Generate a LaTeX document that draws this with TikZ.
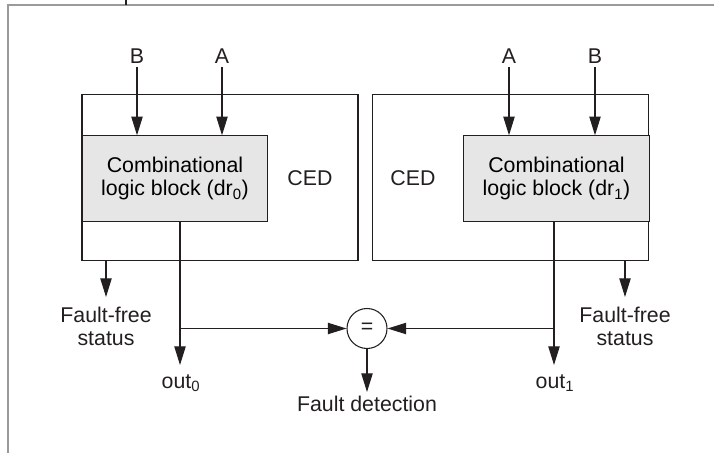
\documentclass[tikz,border=0pt]{standalone}
\usepackage{fontspec}
\setmainfont{Liberation Sans}
\usetikzlibrary{arrows.meta}
\definecolor{blockgray}{HTML}{E6E6E7}
\definecolor{framegray}{HTML}{9A9A9A}
\definecolor{ink}{HTML}{231F20}
\begin{document}
\begin{tikzpicture}[x=0.75pt, y=-0.75pt, line width=0.8pt, draw=ink,
    font=\fontsize{16}{17.5}\selectfont,
    ced/.style={draw, minimum width=207pt, minimum height=125pt},
    logic/.style={draw, fill=blockgray, minimum width=139pt, minimum height=64pt, align=center, inner sep=0pt},
    lbl/.style={inner sep=2pt, align=center, text=ink},
    sig/.style={-{Triangle[length=14pt,width=8.5pt]}}]
    \useasboundingbox (0,0) rectangle (714,453);
    % page frame
    \draw[framegray] (8,453) -- (8,5) -- (714,5);
    \draw (126,0) -- (126,5);
    % the two CED units
    \node[ced] (cedL) at (220,177.5) {};
    \node[logic] (logicL) at (175,178.5) {Combinational\\logic block (dr\textsubscript{0})};
    \node[lbl] (cedtxtL) at (310,178) {CED};
    \node[ced] (cedR) at (510.5,177.5) {};
    \node[logic] (logicR) at (556.5,178.5) {Combinational\\logic block (dr\textsubscript{1})};
    \node[lbl] (cedtxtR) at (413,178) {CED};
    % inputs
    \node[lbl, anchor=south] (bL) at (137,67) {B};
    \node[lbl, anchor=south] (aL) at (222,67) {A};
    \node[lbl, anchor=south] (aR) at (509,67) {A};
    \node[lbl, anchor=south] (bR) at (595,67) {B};
    \draw[sig] (bL) -- (bL |- logicL.north);
    \draw[sig] (aL) -- (aL |- logicL.north);
    \draw[sig] (aR) -- (aR |- logicR.north);
    \draw[sig] (bR) -- (bR |- logicR.north);
    % comparator
    \node[draw, circle, minimum size=30pt, inner sep=0pt, text=ink] (cmp) at (367,328.5) {=};
    % outputs
    \coordinate (oL) at (180,365);
    \coordinate (oR) at (554,365);
    \draw[sig] (logicL.south -| oL) -- (oL);
    \draw[sig] (logicR.south -| oR) -- (oR);
    \draw[sig] (oL |- cmp) -- (cmp);
    \draw[sig] (oR |- cmp) -- (cmp);
    \node[lbl] (outL) at (181,383) {out\textsubscript{0}};
    \node[lbl] (outR) at (555,383) {out\textsubscript{1}};
    % status flags
    \coordinate (ffL) at (106,297);
    \coordinate (ffR) at (625,297);
    \draw[sig] (cedL.south -| ffL) -- (ffL);
    \draw[sig] (cedR.south -| ffR) -- (ffR);
    \node[lbl] (ffLtxt) at (106,326.5) {Fault-free\\status};
    \node[lbl] (ffRtxt) at (625,326.5) {Fault-free\\status};
    % detection
    \coordinate (fd) at (367,392);
    \draw[sig] (cmp) -- (fd);
    \node[lbl] (fdtxt) at (367,404) {Fault detection};
\end{tikzpicture}
\end{document}
